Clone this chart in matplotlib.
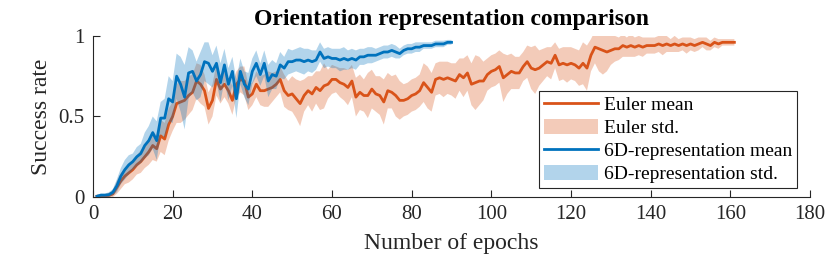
import numpy as np
import matplotlib
matplotlib.use("Agg")
import matplotlib.pyplot as plt

# Euler representation (epochs 1..161)
euler_mean = [
    0.005, 0.005, 0.008, 0.01, 0.02, 0.06, 0.10, 0.13, 0.15, 0.17,
    0.20, 0.22, 0.25, 0.28, 0.32, 0.30, 0.38, 0.36, 0.45, 0.50,
    0.58, 0.59, 0.60, 0.63, 0.65, 0.72, 0.70, 0.66, 0.55, 0.60,
    0.73, 0.67, 0.70, 0.66, 0.60, 0.70, 0.73, 0.72, 0.62, 0.64,
    0.70, 0.66, 0.66, 0.67, 0.68, 0.70, 0.73, 0.66, 0.63, 0.64,
    0.61, 0.58, 0.63, 0.66, 0.64, 0.68, 0.66, 0.69, 0.70, 0.73,
    0.73, 0.71, 0.70, 0.68, 0.72, 0.62, 0.65, 0.63, 0.63, 0.67,
    0.64, 0.63, 0.59, 0.66, 0.65, 0.63, 0.60, 0.60, 0.61, 0.63,
    0.64, 0.66, 0.71, 0.68, 0.65, 0.73, 0.74, 0.73, 0.74, 0.73,
    0.72, 0.76, 0.74, 0.77, 0.70, 0.71, 0.72, 0.72, 0.76, 0.78,
    0.79, 0.81, 0.74, 0.76, 0.78, 0.77, 0.77, 0.81, 0.84, 0.80,
    0.79, 0.80, 0.82, 0.84, 0.83, 0.88, 0.82, 0.83, 0.82, 0.83,
    0.82, 0.80, 0.83, 0.80, 0.88, 0.93, 0.92, 0.91, 0.90, 0.91,
    0.92, 0.92, 0.94, 0.93, 0.94, 0.93, 0.94, 0.93, 0.94, 0.94,
    0.94, 0.95, 0.94, 0.95, 0.94, 0.95, 0.94, 0.95, 0.94, 0.95,
    0.94, 0.95, 0.96, 0.95, 0.94, 0.96, 0.95, 0.96, 0.96, 0.96,
    0.96,
]
euler_std = [
    0.01, 0.01, 0.01, 0.015, 0.02, 0.04, 0.05, 0.05, 0.06, 0.06,
    0.06, 0.07, 0.07, 0.08, 0.09, 0.08, 0.10, 0.10, 0.10, 0.09,
    0.12, 0.13, 0.12, 0.12, 0.11, 0.11, 0.12, 0.10, 0.10, 0.10,
    0.10, 0.09, 0.08, 0.08, 0.09, 0.08, 0.08, 0.09, 0.08, 0.07,
    0.08, 0.09, 0.10, 0.11, 0.09, 0.08, 0.08, 0.10, 0.09, 0.11,
    0.12, 0.14, 0.10, 0.09, 0.11, 0.10, 0.12, 0.14, 0.09, 0.09,
    0.08, 0.09, 0.10, 0.11, 0.10, 0.12, 0.11, 0.10, 0.14, 0.12,
    0.11, 0.12, 0.14, 0.11, 0.10, 0.13, 0.12, 0.10, 0.10, 0.10,
    0.10, 0.10, 0.12, 0.13, 0.12, 0.10, 0.10, 0.11, 0.10, 0.10,
    0.11, 0.10, 0.12, 0.11, 0.13, 0.17, 0.15, 0.12, 0.10, 0.10,
    0.10, 0.10, 0.15, 0.12, 0.11, 0.10, 0.10, 0.09, 0.10, 0.13,
    0.15, 0.11, 0.10, 0.09, 0.10, 0.08, 0.10, 0.10, 0.11, 0.10,
    0.10, 0.11, 0.13, 0.14, 0.10, 0.10, 0.14, 0.15, 0.12, 0.09,
    0.08, 0.07, 0.07, 0.06, 0.07, 0.06, 0.06, 0.06, 0.05, 0.05,
    0.05, 0.05, 0.06, 0.05, 0.04, 0.05, 0.04, 0.04, 0.05, 0.04,
    0.04, 0.04, 0.03, 0.04, 0.03, 0.03, 0.03, 0.02, 0.02, 0.02,
    0.02,
]

# 6D representation (epochs 1..90)
sixd_mean = [
    0.005, 0.012, 0.012, 0.015, 0.03, 0.07, 0.13, 0.17, 0.20, 0.22,
    0.25, 0.27, 0.32, 0.35, 0.40, 0.35, 0.49, 0.49, 0.61, 0.59,
    0.75, 0.70, 0.62, 0.77, 0.78, 0.72, 0.76, 0.84, 0.83, 0.78,
    0.83, 0.71, 0.82, 0.70, 0.78, 0.61, 0.78, 0.70, 0.67, 0.78,
    0.83, 0.76, 0.83, 0.72, 0.76, 0.75, 0.82, 0.80, 0.84, 0.84,
    0.85, 0.85, 0.84, 0.85, 0.84, 0.85, 0.90, 0.86, 0.87, 0.86,
    0.86, 0.85, 0.86, 0.85, 0.86, 0.85, 0.87, 0.87, 0.88, 0.88,
    0.88, 0.89, 0.90, 0.90, 0.91, 0.90, 0.89, 0.91, 0.92, 0.92,
    0.93, 0.93, 0.94, 0.94, 0.94, 0.95, 0.95, 0.95, 0.96, 0.96,
]
sixd_std = [
    0.01, 0.01, 0.01, 0.015, 0.02, 0.04, 0.05, 0.06, 0.06, 0.05,
    0.06, 0.06, 0.08, 0.09, 0.10, 0.12, 0.10, 0.12, 0.14, 0.13,
    0.14, 0.17, 0.20, 0.16, 0.13, 0.12, 0.14, 0.12, 0.13, 0.10,
    0.11, 0.12, 0.10, 0.10, 0.09, 0.12, 0.08, 0.08, 0.10, 0.08,
    0.08, 0.07, 0.08, 0.10, 0.09, 0.08, 0.08, 0.07, 0.08, 0.07,
    0.07, 0.08, 0.08, 0.07, 0.07, 0.06, 0.06, 0.06, 0.06, 0.06,
    0.06, 0.07, 0.07, 0.06, 0.06, 0.06, 0.05, 0.05, 0.05, 0.05,
    0.04, 0.04, 0.04, 0.04, 0.04, 0.04, 0.03, 0.03, 0.03, 0.03,
    0.03, 0.03, 0.02, 0.02, 0.02, 0.02, 0.02, 0.02, 0.015, 0.015,
]

ORANGE = "#D95319"
BLUE = "#0072BD"
AX_COLOR = "#262626"

plt.rcParams["font.family"] = ["Liberation Serif", "DejaVu Serif"]

fig = plt.figure(figsize=(8.3, 2.6), dpi=100)
ax = fig.add_axes([0.112, 0.242, 0.864, 0.62])

e_x = np.arange(1, len(euler_mean) + 1)
e_m = np.array(euler_mean)
e_s = np.array(euler_std)
s_x = np.arange(1, len(sixd_mean) + 1)
s_m = np.array(sixd_mean)
s_s = np.array(sixd_std)

f1 = ax.fill_between(e_x, e_m - e_s, e_m + e_s, facecolor=ORANGE, alpha=0.3,
                     edgecolor="none", zorder=1)
l1, = ax.plot(e_x, e_m, color=ORANGE, lw=2.0, zorder=2)
f2 = ax.fill_between(s_x, s_m - s_s, s_m + s_s, facecolor=BLUE, alpha=0.3,
                     edgecolor="none", zorder=3)
l2, = ax.plot(s_x, s_m, color=BLUE, lw=2.0, zorder=4)

ax.set_xlim(0, 180)
ax.set_ylim(0, 1)
ax.set_xticks(range(0, 181, 20))
ax.set_yticks([0, 0.5, 1])
ax.set_yticklabels(["0", "0.5", "1"])
ax.tick_params(direction="in", length=5, width=0.8, colors=AX_COLOR,
               labelsize=15, pad=6)
for side in ("top", "right"):
    ax.spines[side].set_visible(False)
for side in ("left", "bottom"):
    ax.spines[side].set_color(AX_COLOR)
    ax.spines[side].set_linewidth(0.8)

ax.set_xlabel("Number of epochs", fontsize=17, color=AX_COLOR, labelpad=6)
ax.set_ylabel("Success rate", fontsize=17, color=AX_COLOR, labelpad=5)
ax.set_title("Orientation representation comparison", fontsize=17,
             fontweight="bold", pad=8)

leg = ax.legend([l1, f1, l2, f2],
                ["Euler mean", "Euler std.", "6D-representation mean",
                 "6D-representation std."],
                loc="lower right", bbox_to_anchor=(0.982, 0.056),
                fontsize=14, frameon=True, fancybox=False, framealpha=1,
                edgecolor=AX_COLOR, handlelength=2.8, handleheight=0.8,
                handletextpad=0.3, labelspacing=0.25, borderpad=0.25,
                borderaxespad=0)
leg.get_frame().set_linewidth(0.8)

fig.savefig("out.png", dpi=100)
